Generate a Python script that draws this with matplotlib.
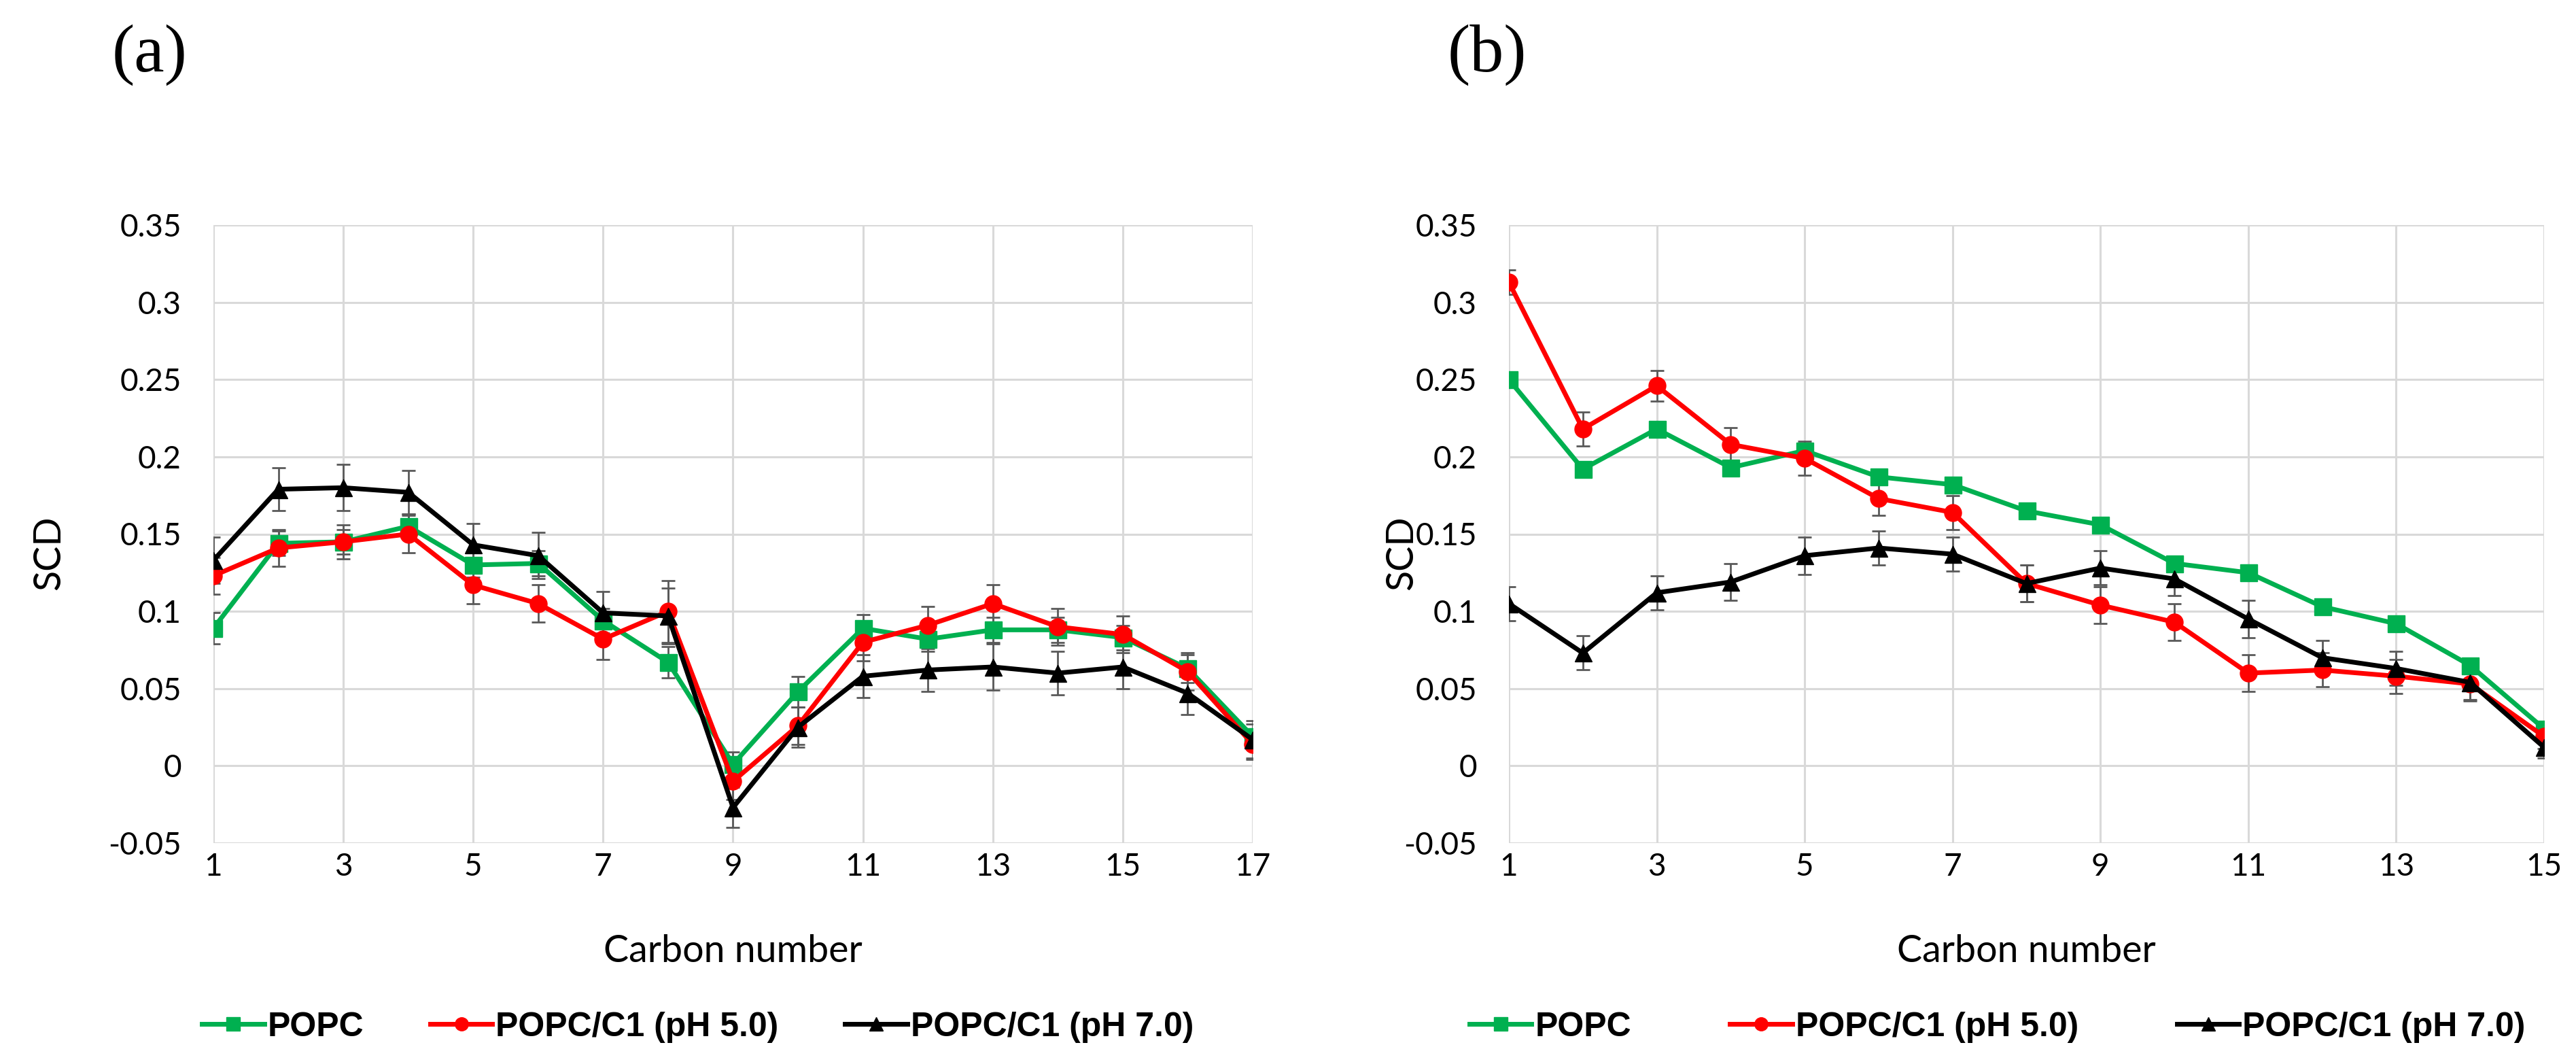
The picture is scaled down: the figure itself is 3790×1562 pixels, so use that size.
import matplotlib
matplotlib.use("Agg")
import matplotlib.pyplot as plt
import numpy as np

# ---------------- data ----------------
carbon_a = list(range(1, 18))
popc_a = [0.089, 0.144, 0.145, 0.155, 0.130, 0.131, 0.094, 0.067, 0.001, 0.048,
          0.089, 0.082, 0.088, 0.088, 0.083, 0.063, 0.019]
ph5_a = [0.123, 0.141, 0.145, 0.150, 0.117, 0.105, 0.082, 0.100, -0.010, 0.026,
         0.080, 0.091, 0.105, 0.090, 0.085, 0.061, 0.014]
ph7_a = [0.133, 0.179, 0.180, 0.177, 0.143, 0.136, 0.099, 0.097, -0.027, 0.025,
         0.058, 0.062, 0.064, 0.060, 0.064, 0.047, 0.017]
popc_a_err = [0.010, 0.008, 0.008, 0.008, 0.008, 0.008, 0.008, 0.010, 0.008, 0.010,
              0.009, 0.008, 0.008, 0.008, 0.008, 0.009, 0.008]
ph5_a_err = [0.012, 0.012, 0.011, 0.012, 0.012, 0.012, 0.013, 0.020, 0.012, 0.012,
             0.012, 0.012, 0.012, 0.012, 0.012, 0.012, 0.010]
ph7_a_err = [0.015, 0.014, 0.015, 0.014, 0.014, 0.015, 0.014, 0.018, 0.013, 0.013,
             0.014, 0.014, 0.015, 0.014, 0.014, 0.014, 0.012]

carbon_b = list(range(1, 16))
popc_b = [0.250, 0.192, 0.218, 0.193, 0.204, 0.187, 0.182, 0.165, 0.156, 0.131,
          0.125, 0.103, 0.092, 0.065, 0.024]
ph5_b = [0.313, 0.218, 0.246, 0.208, 0.199, 0.173, 0.164, 0.118, 0.104, 0.093,
         0.060, 0.062, 0.058, 0.053, 0.019]
ph7_b = [0.105, 0.073, 0.112, 0.119, 0.136, 0.141, 0.137, 0.118, 0.128, 0.121,
         0.095, 0.070, 0.063, 0.054, 0.012]
popc_b_err = [0.003, 0.003, 0.003, 0.003, 0.003, 0.003, 0.003, 0.003, 0.003, 0.003,
              0.003, 0.003, 0.003, 0.003, 0.003]
ph5_b_err = [0.008, 0.011, 0.010, 0.011, 0.011, 0.011, 0.011, 0.012, 0.012, 0.012,
             0.012, 0.011, 0.011, 0.011, 0.008]
ph7_b_err = [0.011, 0.011, 0.011, 0.012, 0.012, 0.011, 0.011, 0.012, 0.011, 0.011,
             0.012, 0.011, 0.011, 0.011, 0.007]

yticks = [-0.05, 0, 0.05, 0.1, 0.15, 0.2, 0.25, 0.3, 0.35]
ytick_labels = ["-0.05", "0", "0.05", "0.1", "0.15", "0.2", "0.25", "0.3", "0.35"]
series_names = ["POPC", "POPC/C1 (pH 5.0)", "POPC/C1 (pH 7.0)"]
colors = ["#00B050", "#FF0000", "#000000"]
markers = ["s", "o", "^"]

# ---------------- figure ----------------
W, H = 3791, 1562
fig = plt.figure(figsize=(W / 100, H / 100), dpi=100)

tick_font = "Lato"
grid_color = "#D9D9D9"


def make_panel(rect, carbons, ys, errs, xticks, letter, letter_x,
               ylab_x, leg_x, colspace):
    ax = fig.add_axes(rect)
    for y, e, c, m, name in zip(ys, errs, colors, markers, series_names):
        ax.errorbar(carbons, y, yerr=e, fmt="none", ecolor="#595959",
                    elinewidth=2.0, capsize=7, capthick=2.0, zorder=2)
        ax.plot(carbons, y, color=c, marker=m, markersize=18, linewidth=5,
                label=name, zorder=3)
    ax.set_xlim(carbons[0], carbons[-1])
    ax.set_ylim(-0.05, 0.35)
    ax.set_xticks(xticks)
    ax.set_xticklabels([str(t) for t in xticks], fontsize=33, family=tick_font)
    ax.set_yticks(yticks)
    ax.set_yticklabels(ytick_labels, fontsize=33, family=tick_font)
    ax.tick_params(axis="x", which="both", length=0, pad=10)
    ax.tick_params(axis="y", which="both", length=0, pad=34)
    ax.grid(True, which="major", color=grid_color, linewidth=2.2, zorder=0)
    ax.set_axisbelow(True)
    for s in ax.spines.values():
        s.set_visible(False)
    ax.text(0.5, -0.175, "Carbon number", fontsize=40, family=tick_font,
            ha="center", va="center", transform=ax.transAxes)
    ax.text(ylab_x, 0.47, "SCD", fontsize=40, family=tick_font, rotation=90,
            ha="center", va="center", transform=ax.transAxes)
    leg = ax.legend(loc="center", bbox_to_anchor=(leg_x, -0.298), ncol=3,
                    frameon=False, handlelength=1.83, handletextpad=0.1,
                    columnspacing=colspace,
                    prop={"family": "Liberation Sans", "weight": "bold", "size": 36})
    for h in leg.legend_handles:
        h.set_markersize(14)
        h.set_linewidth(5)
    fig.text(letter_x, 0.948, letter, fontsize=72, family="Liberation Serif",
             ha="left", va="center")
    return ax


ax1 = make_panel([314 / W, 1 - 1240 / H, (1843 - 314) / W, (1240 - 331) / H],
                 carbon_a, [popc_a, ph5_a, ph7_a], [popc_a_err, ph5_a_err, ph7_a_err],
                 list(range(1, 18, 2)), "(a)", 165 / W, -0.158, 0.466, 1.95)
ax2 = make_panel([2220 / W, 1 - 1240 / H, (3743 - 2220) / W, (1240 - 331) / H],
                 carbon_b, [popc_b, ph5_b, ph7_b], [popc_b_err, ph5_b_err, ph7_b_err],
                 list(range(1, 16, 2)), "(b)", 2130 / W, -0.103, 0.472, 2.9)

fig.savefig("out.png", dpi=100, facecolor="white")
